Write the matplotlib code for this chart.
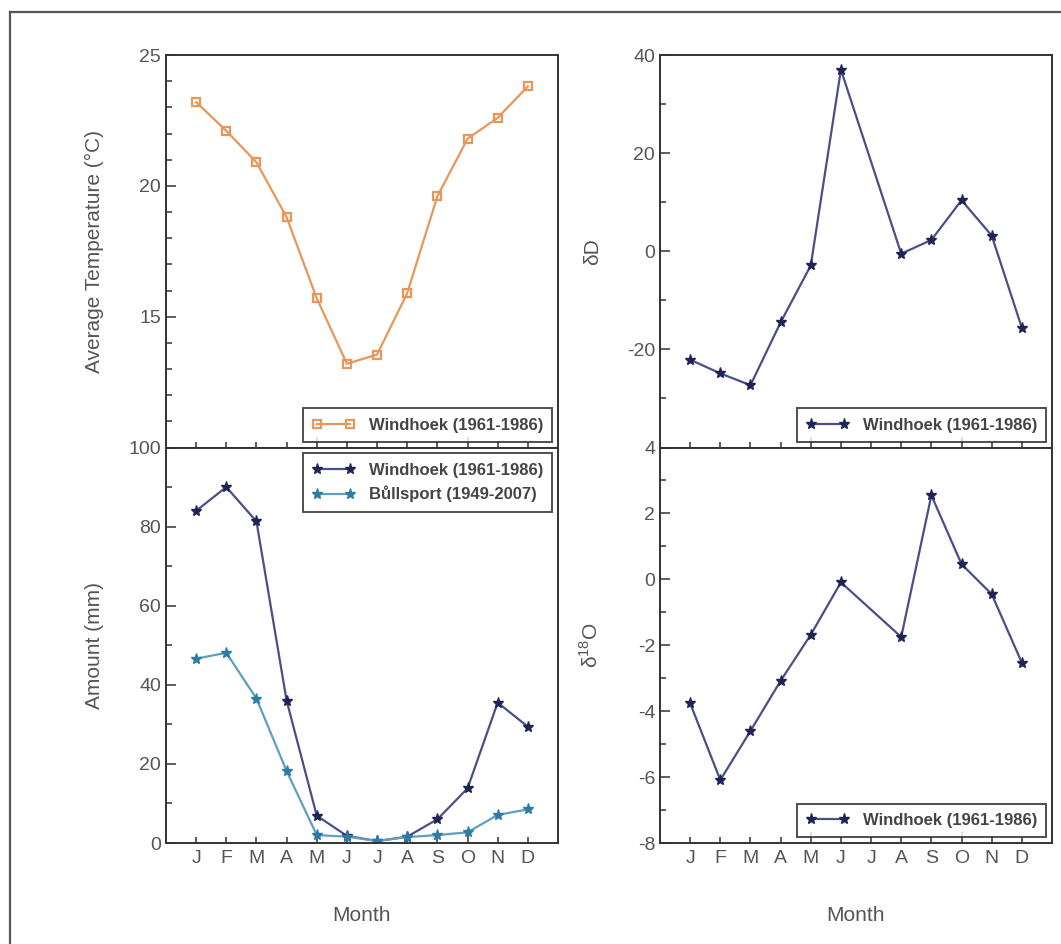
import numpy as np
import matplotlib
matplotlib.use("Agg")
import matplotlib.pyplot as plt
from matplotlib.ticker import MultipleLocator, FixedLocator

plt.rcParams['font.family'] = ['Liberation Sans', 'DejaVu Sans']
plt.rcParams['mathtext.fontset'] = 'custom'
plt.rcParams['mathtext.rm'] = 'Liberation Sans'
plt.rcParams['axes.unicode_minus'] = False

months = ['J', 'F', 'M', 'A', 'M', 'J', 'J', 'A', 'S', 'O', 'N', 'D']
month_num = list(range(1, 13))

temp_windhoek = [23.2, 22.1, 20.9, 18.8, 15.7, 13.2, 13.55, 15.9, 19.6, 21.8, 22.6, 23.8]
precip_windhoek = [84, 90, 81.3, 36, 6.9, 1.8, 0.5, 1.6, 6.0, 13.8, 35.5, 29.4]
precip_bullsport = [46.6, 48.1, 36.5, 18.2, 2.0, 1.6, 0.5, 1.5, 2.0, 2.7, 7.1, 8.5]
dD_windhoek = [-22.1, -24.9, -27.3, -14.5, -2.9, 37.0, None, -0.5, 2.3, 10.4, 3.2, -15.6]
d18O_windhoek = [-3.76, -6.09, -4.6, -3.08, -1.68, -0.09, None, -1.75, 2.55, 0.46, -0.45, -2.53]

legend_w = 'Windhoek (1961-1986)'
legend_b = 'Bůllsport (1949-2007)'

c_orange = '#e8975a'
c_navy_line = '#4a4f86'
c_navy_mk = '#1e2456'
c_teal_line = '#5f9fc0'
c_teal_mk = '#2d7ca6'
tick_color = '#555555'

W, H = 1061, 944
fig = plt.figure(figsize=(W / 100, H / 100), dpi=100)

def rect(x0, y0, x1, y1):
    return [x0 / W, 1 - y1 / H, (x1 - x0) / W, (y1 - y0) / H]

ax_t = fig.add_axes(rect(166, 55, 558, 447.5))
ax_p = fig.add_axes(rect(166, 447.5, 558, 843))
ax_d = fig.add_axes(rect(660, 55, 1052, 447.5))
ax_o = fig.add_axes(rect(660, 447.5, 1052, 843))

def style(ax):
    for s in ax.spines.values():
        s.set_linewidth(1.4)
        s.set_color('#333333')
    ax.set_xlim(0, 13)
    ax.xaxis.set_major_locator(FixedLocator(month_num))
    ax.tick_params(axis='both', which='both', direction='in', top=False, right=False,
                   colors='#333333', labelcolor=tick_color, labelsize=14, width=1.1)
    ax.tick_params(axis='both', which='major', length=7)
    ax.tick_params(axis='both', which='minor', length=4)
    ax.tick_params(axis='x', which='major', length=4, pad=5)

def long_month_ticks(ax):
    for i, t in enumerate(ax.xaxis.get_major_ticks()):
        if month_num[i] in (5, 10):
            t.tick1line.set_markersize(8)

def legend(ax, loc, **kw):
    lg = ax.legend(loc=loc, numpoints=2, fancybox=False, frameon=True,
                   prop={'size': 12, 'weight': 'bold'}, handlelength=2.6,
                   borderpad=0.55, labelcolor='#444444', **kw)
    lg.get_frame().set_edgecolor('#222222')
    lg.get_frame().set_linewidth(1.4)
    return lg

def valid(xs, ys):
    pts = [(x, y) for x, y in zip(xs, ys) if y is not None]
    return [p[0] for p in pts], [p[1] for p in pts]

LX_LEFT = -0.158
LX_RIGHT = -0.148

# Temperature
style(ax_t)
ax_t.plot(month_num, temp_windhoek, color=c_orange, lw=1.6, marker='s', ms=6,
          mfc='none', mec=c_orange, mew=1.6, label=legend_w)
ax_t.set_ylim(10, 25)
ax_t.yaxis.set_major_locator(FixedLocator([15, 20, 25]))
ax_t.yaxis.set_minor_locator(MultipleLocator(1))
ax_t.set_xticklabels([])
ax_t.set_ylabel('Average Temperature (°C)', fontsize=15, color=tick_color)
ax_t.yaxis.set_label_coords(LX_LEFT, 0.5)
legend(ax_t, 'lower right', borderaxespad=0.35)

# Precipitation
style(ax_p)
ax_p.plot(month_num, precip_windhoek, color=c_navy_line, lw=1.6, marker='*', ms=8,
          mfc=c_navy_mk, mec=c_navy_mk, label=legend_w)
ax_p.plot(month_num, precip_bullsport, color=c_teal_line, lw=1.6, marker='*', ms=8,
          mfc=c_teal_mk, mec=c_teal_mk, label=legend_b)
ax_p.set_ylim(0, 100)
ax_p.yaxis.set_major_locator(MultipleLocator(20))
ax_p.yaxis.set_minor_locator(MultipleLocator(10))
ax_p.set_xticklabels(months)
ax_p.set_ylabel('Amount (mm)', fontsize=15, color=tick_color)
ax_p.yaxis.set_label_coords(LX_LEFT, 0.5)
ax_p.set_xlabel('Month', fontsize=15, color=tick_color, labelpad=28)
legend(ax_p, 'upper right', borderaxespad=0.35)

# dD
style(ax_d)
xd, yd = valid(month_num, dD_windhoek)
ax_d.plot(xd, yd, color=c_navy_line, lw=1.6, marker='*', ms=8,
          mfc=c_navy_mk, mec=c_navy_mk, label=legend_w)
ax_d.set_ylim(-40, 40)
ax_d.yaxis.set_major_locator(FixedLocator([-20, 0, 20, 40]))
ax_d.yaxis.set_minor_locator(MultipleLocator(10))
ax_d.set_xticklabels([])
ax_d.set_ylabel('δD', fontsize=15, color=tick_color)
ax_d.yaxis.set_label_coords(LX_RIGHT, 0.5)
legend(ax_d, 'lower right', borderaxespad=0.35)

# d18O
style(ax_o)
xo, yo = valid(month_num, d18O_windhoek)
ax_o.plot(xo, yo, color=c_navy_line, lw=1.6, marker='*', ms=8,
          mfc=c_navy_mk, mec=c_navy_mk, label=legend_w)
ax_o.set_ylim(-8, 4)
ax_o.yaxis.set_major_locator(MultipleLocator(2))
ax_o.yaxis.set_minor_locator(MultipleLocator(1))
ax_o.set_xticklabels(months)
ax_o.set_ylabel(r'δ$^{\mathregular{18}}$O', fontsize=15, color=tick_color)
ax_o.yaxis.set_label_coords(LX_RIGHT, 0.5)
ax_o.set_xlabel('Month', fontsize=15, color=tick_color, labelpad=28)
legend(ax_o, 'lower right', borderaxespad=0.35)

for ax in (ax_t, ax_p, ax_d, ax_o):
    long_month_ticks(ax)

# outer frame (top and left edges)
fig.add_artist(plt.Line2D([10 / W, 10 / W], [0, 1 - 12 / H], transform=fig.transFigure,
                          color='#555555', lw=1.6))
fig.add_artist(plt.Line2D([10 / W, 1], [1 - 12 / H, 1 - 12 / H], transform=fig.transFigure,
                          color='#555555', lw=1.6))

fig.savefig('out.png', dpi=100)
